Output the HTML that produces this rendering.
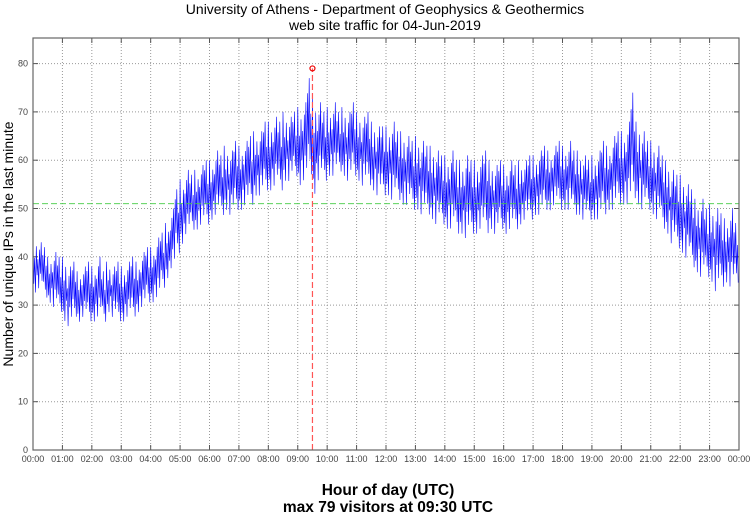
<!DOCTYPE html>
<html><head><meta charset="utf-8"><style>
body{margin:0;background:#fff;}
svg{display:block;font-family:"Liberation Sans",sans-serif;}
</style></head><body>
<svg id="c" width="750" height="515" xmlns="http://www.w3.org/2000/svg">
<text x="385" y="14" text-anchor="middle" font-size="14">University of Athens - Department of Geophysics &amp; Geothermics</text>
<text x="385" y="30" text-anchor="middle" font-size="14">web site traffic for 04-Jun-2019</text>
<text transform="translate(13,244) rotate(-90)" text-anchor="middle" font-size="14">Number of unique IPs in the last minute</text>
<text x="388" y="495" text-anchor="middle" font-size="15.5" font-weight="bold">Hour of day (UTC)</text>
<text x="388" y="512" text-anchor="middle" font-size="15.5" font-weight="bold">max 79 visitors at 09:30 UTC</text>
</svg>
<script>
const yTicks=[0,10,20,30,40,50,60,70,80];
const xTickLabels=["00:00","01:00","02:00","03:00","04:00","05:00","06:00","07:00","08:00","09:00","10:00","11:00","12:00","13:00","14:00","15:00","16:00","17:00","18:00","19:00","20:00","21:00","22:00","23:00","00:00"];
const highs=[44,43,42,40,41,40, 40,38,39,37,38,39, 38,40,37,39,38,39, 38,39,40,39,41,42, 42,44,45,47,50,54, 56,58,57,58,59,60, 60,62,61,63,62,64, 63,64,65,66,66,68, 68,69,68,70,69,70, 71,72,77,73,72,70, 71,72,70,71,70,72, 70,69,70,68,67,67, 67,68,66,66,65,64, 65,64,63,63,62,61, 61,62,60,60,61,60, 60,61,62,60,59,60, 59,60,59,60,60,61, 61,62,63,62,63,64, 63,64,62,62,61,60, 61,62,64,63,65,66, 66,68,74,68,66,64, 64,63,61,60,58,57, 57,55,54,52,52,50, 51,50,49,48,50,47];
const lows=[32,33,31,30,29,28, 26,25,27,26,27,26, 26,27,26,28,27,26, 26,27,27,28,29,30, 30,31,33,35,37,40, 42,44,45,45,46,46, 47,48,48,49,48,49, 49,50,50,52,52,53, 53,54,53,55,55,56, 54,55,56,52,55,55, 56,56,57,56,55,56, 55,54,54,53,52,52, 52,51,51,50,50,49, 49,48,48,47,46,46, 45,45,44,44,43,44, 44,45,44,45,44,45, 44,45,45,46,47,47, 48,48,49,49,50,49, 49,49,48,48,47,47, 47,47,48,49,49,50, 50,50,51,50,49,49, 48,47,45,44,42,41, 40,39,37,36,35,35, 34,32,33,34,33,34];
const avgValue=51;
const maxValue=79;
const maxHour=9.5;

const L=33,R=739,T=38,B=450;
const yMax=85.3;
const xs=h=>L+(R-L)*h/24;
const ys=v=>B-(B-T)*v/yMax;
const svg=document.getElementById('c');
const NS='http://www.w3.org/2000/svg';
function mk(tag,attrs){const e=document.createElementNS(NS,tag);for(const k in attrs)e.setAttribute(k,attrs[k]);svg.appendChild(e);return e;}

yTicks.forEach(v=>{
  if(v>0){const g=mk('line',{x1:L,x2:R,y1:ys(v),y2:ys(v),stroke:'#999','stroke-dasharray':'1,2','stroke-width':1});
  
  }
  const t=mk('line',{x1:L,x2:L+5,y1:ys(v),y2:ys(v),stroke:'#555'});
  
  
  const t2=mk('line',{x1:R-5,x2:R,y1:ys(v),y2:ys(v),stroke:'#555'});
  
  
  const lb=mk('text',{x:L-5,y:ys(v)+3,'text-anchor':'end','font-size':9,fill:'#444'});
  lb.textContent=v;
  
  
});
xTickLabels.forEach((s,i)=>{
  const x=xs(i);
  if(i>0&&i<24){const g=mk('line',{x1:x,x2:x,y1:T,y2:B,stroke:'#999','stroke-dasharray':'1,2'});
  
  }
  const t=mk('line',{x1:x,x2:x,y1:B-5,y2:B,stroke:'#555'});
  
  
  const t2=mk('line',{x1:x,x2:x,y1:T,y2:T+5,stroke:'#555'});
  
  
  const lb=mk('text',{x:x,y:B+12,'text-anchor':'middle','font-size':9,fill:'#444'});
  lb.textContent=s;
  
  
});

const fr=[1,0.2,0.65,0.05,0.85,0.35];
let pts=[];
const n=highs.length;
for(let i=0;i<n;i++){
  const step=24/n,h0=i*step;
  const hi=highs[i],lo=lows[i];
  const k=fr.length;
  for(let j=0;j<k;j++){
    const f=fr[(j+i*2)%k];
    pts.push(xs(h0+step*j/k).toFixed(1)+','+ys(lo+(hi-lo)*f).toFixed(1));
  }
}
const line=mk('polyline',{points:pts.join(' '),fill:'none',stroke:'#0000ff','stroke-width':0.6});



const av=mk('line',{x1:L,x2:R,y1:ys(avgValue),y2:ys(avgValue),stroke:'#4c4','stroke-dasharray':'6,3','stroke-width':0.8});



const mx=mk('line',{x1:xs(maxHour),x2:xs(maxHour),y1:B,y2:ys(maxValue),stroke:'#f55','stroke-dasharray':'6,3','stroke-width':1.2});


const mc=mk('circle',{cx:xs(maxHour),cy:ys(maxValue),r:2.5,fill:'none',stroke:'#e00','stroke-width':1.2});



const frame=mk('rect',{x:L,y:T,width:R-L,height:B-T,fill:'none',stroke:'#666','stroke-width':1.2});


</script>
</body></html>
